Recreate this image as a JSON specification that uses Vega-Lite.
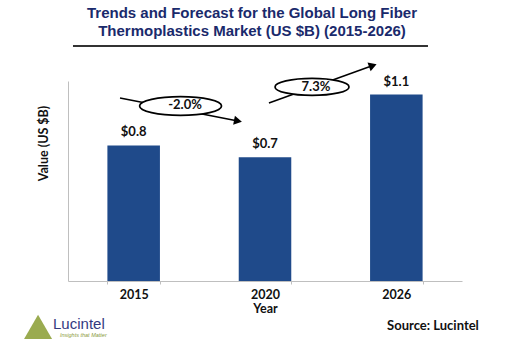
{
  "$schema": "https://vega.github.io/schema/vega-lite/v6.json",
  "width": 394,
  "height": 200,
  "autosize": {"type": "none"},
  "padding": {"left": 68, "top": 81, "right": 43, "bottom": 82},
  "background": "white",
  "config": {"view": {"stroke": null}},
  "title": {
    "text": ["Trends and Forecast for the Global Long Fiber", "Thermoplastics Market (US $B) (2015-2026)"],
    "font": "Liberation Sans",
    "fontSize": 15,
    "fontWeight": "bold",
    "color": "#1a2a6c",
    "lineHeight": 18,
    "anchor": "middle",
    "frame": "group",
    "dx": -13,
    "offset": 6
  },
  "datasets": {
    "bars": [
      {"Year": "2015", "value": 0.8, "label": "$0.8"},
      {"Year": "2020", "value": 0.73, "label": "$0.7"},
      {"Year": "2026", "value": 1.1, "label": "$1.1"}
    ],
    "trend": [
      {"label": "-2.0%", "ex": 0.857, "ey": 1.0325, "tx": 0.891, "ty": 1.038, "ax1": 0.396, "ay1": 1.08, "ax2": 1.294, "ay2": 0.944},
      {"label": "7.3%", "ex": 1.858, "ey": 1.145, "tx": 1.888, "ty": 1.145, "ax1": 1.53, "ay1": 1.05, "ax2": 2.321, "ay2": 1.271}
    ]
  },
  "layer": [
    {
      "data": {"name": "bars"},
      "mark": {"type": "bar", "color": "#1f4a8a"},
      "encoding": {
        "x": {
          "field": "Year", "type": "nominal",
          "scale": {"paddingInner": 0.6, "paddingOuter": 0.3},
          "axis": {
            "title": "Year", "labelAngle": 0,
            "labelFont": "Lato", "labelFontSize": 12.5, "labelFontWeight": "bold", "labelColor": "#111",
            "titleFont": "Lato", "titleFontSize": 12.5, "titleFontWeight": "bold", "titleColor": "#111",
            "titlePadding": 2, "labelPadding": 4,
            "domainColor": "#bfbfbf", "tickColor": "#bfbfbf", "tickSize": 3, "tickBand": "extent"
          }
        },
        "y": {
          "field": "value", "type": "quantitative",
          "scale": {"domain": [0, 1.18], "nice": false},
          "axis": {
            "title": "Value (US $B)", "labels": false, "ticks": false, "grid": false,
            "domainColor": "#bfbfbf",
            "titleFont": "Lato", "titleFontSize": 12.5, "titleFontWeight": "bold", "titleColor": "#111",
            "titleX": -25, "titleY": 62, "titleBaseline": "middle", "titleAlign": "center"
          }
        }
      }
    },
    {
      "data": {"name": "bars"},
      "mark": {"type": "text", "font": "Lato", "fontSize": 13, "fontWeight": "bold", "color": "#111", "baseline": "middle", "dy": -13},
      "encoding": {
        "x": {"field": "Year", "type": "nominal", "scale": {"paddingInner": 0.6, "paddingOuter": 0.3}, "axis": null},
        "y": {"field": "value", "type": "quantitative", "scale": {"domain": [0, 1.18], "nice": false}, "axis": null},
        "text": {"field": "label"}
      }
    },
    {
      "data": {"name": "trend"},
      "mark": {"type": "rule", "color": "#000", "strokeWidth": 1.5},
      "encoding": {
        "x": {"field": "ax1", "type": "quantitative", "scale": {"domain": [0, 3], "nice": false, "zero": false}, "axis": null},
        "y": {"field": "ay1", "type": "quantitative", "scale": {"domain": [0, 1.18], "nice": false}, "axis": null},
        "x2": {"field": "ax2"},
        "y2": {"field": "ay2"}
      }
    },
    {
      "data": {"name": "trend"},
      "mark": {"type": "point", "shape": "triangle-right", "filled": true, "color": "#000", "size": 85, "opacity": 1},
      "encoding": {
        "x": {"field": "ax2", "type": "quantitative", "scale": {"domain": [0, 3], "nice": false, "zero": false}, "axis": null},
        "y": {"field": "ay2", "type": "quantitative", "scale": {"domain": [0, 1.18], "nice": false}, "axis": null},
        "angle": {"condition": {"test": "datum.label == '-2.0%'", "value": 11}, "value": 340}
      }
    },
    {
      "data": {"name": "trend"},
      "mark": {"type": "point", "shape": "M -1 0 A 1 0.23 0 1 0 1 0 A 1 0.23 0 1 0 -1 0 Z", "filled": false, "fill": "white", "fillOpacity": 1, "stroke": "#000", "strokeWidth": 1.7, "opacity": 1},
      "encoding": {
        "x": {"field": "ex", "type": "quantitative", "scale": {"domain": [0, 3], "nice": false, "zero": false}, "axis": null},
        "y": {"field": "ey", "type": "quantitative", "scale": {"domain": [0, 1.18], "nice": false}, "axis": null},
        "size": {"condition": {"test": "datum.label == '-2.0%'", "value": 6724}, "value": 5476}
      }
    },
    {
      "data": {"name": "trend"},
      "mark": {"type": "text", "font": "Lato", "fontSize": 13, "fontWeight": "bold", "color": "#111", "baseline": "middle", "align": "center"},
      "encoding": {
        "x": {"field": "tx", "type": "quantitative", "scale": {"domain": [0, 3], "nice": false, "zero": false}, "axis": null},
        "y": {"field": "ty", "type": "quantitative", "scale": {"domain": [0, 1.18], "nice": false}, "axis": null},
        "text": {"field": "label"}
      }
    },
    {
      "data": {"values": [{"x": 0.038, "x2": 2.741, "y": 1.387}]},
      "mark": {"type": "rule", "color": "#333", "strokeWidth": 2},
      "encoding": {
        "x": {"field": "x", "type": "quantitative", "scale": {"domain": [0, 3], "nice": false, "zero": false}, "axis": null},
        "x2": {"field": "x2"},
        "y": {"field": "y", "type": "quantitative", "scale": {"domain": [0, 1.18], "nice": false}, "axis": null}
      }
    },
    {
      "data": {"values": [{"text": "Source: Lucintel", "x": 2.779, "y": -0.2655}]},
      "mark": {"type": "text", "font": "Lato", "fontSize": 13, "fontWeight": "bold", "color": "#111", "baseline": "middle", "align": "center"},
      "encoding": {
        "x": {"field": "x", "type": "quantitative", "scale": {"domain": [0, 3], "nice": false, "zero": false}, "axis": null},
        "y": {"field": "y", "type": "quantitative", "scale": {"domain": [0, 1.18], "nice": false}, "axis": null},
        "text": {"field": "text"}
      }
    },
    {
      "data": {"values": [{"x": -0.228, "y": -0.271}]},
      "mark": {"type": "point", "shape": "triangle-up", "filled": true, "color": "#9aab50", "size": 784, "opacity": 1},
      "encoding": {
        "x": {"field": "x", "type": "quantitative", "scale": {"domain": [0, 3], "nice": false, "zero": false}, "axis": null},
        "y": {"field": "y", "type": "quantitative", "scale": {"domain": [0, 1.18], "nice": false}, "axis": null}
      }
    },
    {
      "data": {"values": [{"text": "Lucintel", "x": -0.114, "y": -0.2537}]},
      "mark": {"type": "text", "font": "Liberation Sans", "fontSize": 15, "color": "#33397f", "baseline": "middle", "align": "left"},
      "encoding": {
        "x": {"field": "x", "type": "quantitative", "scale": {"domain": [0, 3], "nice": false, "zero": false}, "axis": null},
        "y": {"field": "y", "type": "quantitative", "scale": {"domain": [0, 1.18], "nice": false}, "axis": null},
        "text": {"field": "text"}
      }
    },
    {
      "data": {"values": [{"text": "Insights that Matter", "x": -0.061, "y": -0.3186}]},
      "mark": {"type": "text", "font": "Liberation Sans", "fontSize": 5.5, "fontStyle": "italic", "color": "#8a9a3a", "baseline": "middle", "align": "left"},
      "encoding": {
        "x": {"field": "x", "type": "quantitative", "scale": {"domain": [0, 3], "nice": false, "zero": false}, "axis": null},
        "y": {"field": "y", "type": "quantitative", "scale": {"domain": [0, 1.18], "nice": false}, "axis": null},
        "text": {"field": "text"}
      }
    }
  ],
  "resolve": {"scale": {"x": "independent"}, "axis": {"y": "independent"}}
}
